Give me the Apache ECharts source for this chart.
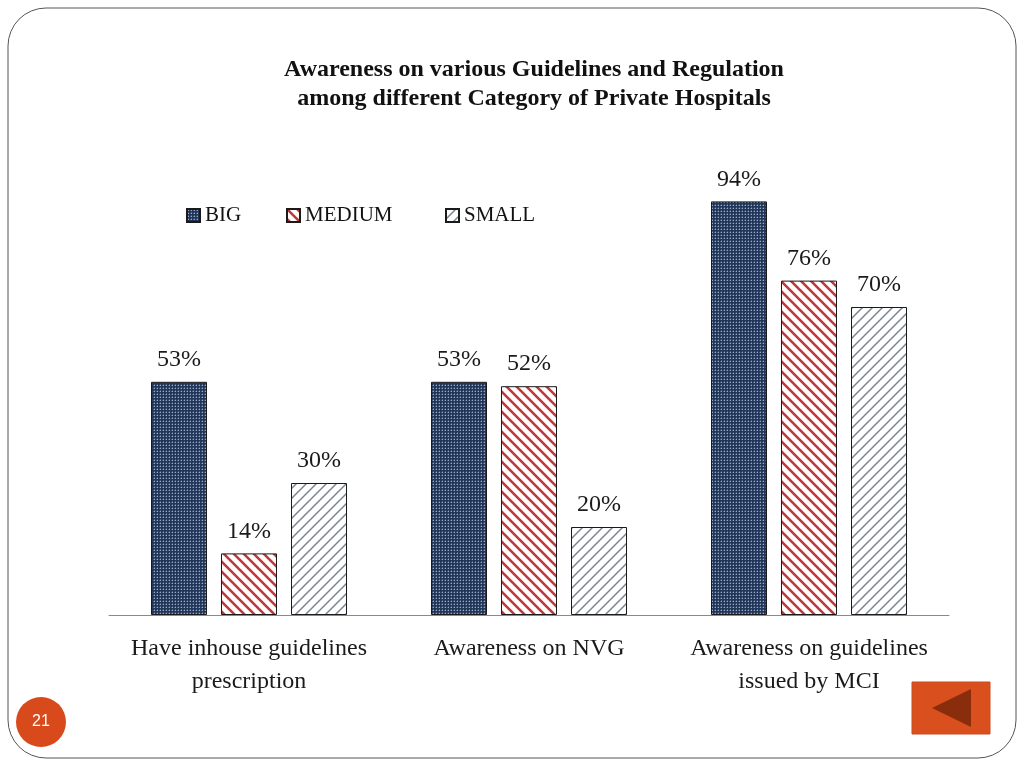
<!DOCTYPE html>
<html><head><meta charset="utf-8">
<script src="https://cdn.jsdelivr.net/npm/echarts@6/dist/echarts.min.js"></script>
<style>html,body{margin:0;padding:0;background:#fff}#c{width:1024px;height:768px}</style>
</head><body><div id="c"></div>
<script>
const categories = ['Have inhouse guidelines\nprescription', 'Awareness on NVG', 'Awareness on guidelines\nissued by MCI'];
const seriesNames = ['BIG', 'MEDIUM', 'SMALL'];
const bigValues = [53, 53, 94];
const mediumValues = [14, 52, 76];
const smallValues = [30, 20, 70];

function makePattern(kind) {
  const c = document.createElement('canvas');
  const ctx = c.getContext('2d');
  if (kind === 'dots') {
    c.width = 3; c.height = 3;
    ctx.fillStyle = '#22365a'; ctx.fillRect(0, 0, 3, 3);
    ctx.fillStyle = '#9aabc6'; ctx.fillRect(1, 1, 1, 1);
    ctx.fillStyle = '#4a5e80'; ctx.fillRect(0, 1, 1, 1); ctx.fillRect(1, 0, 1, 1);
  } else {
    const s = 10;
    c.width = s; c.height = s;
    ctx.fillStyle = '#ffffff'; ctx.fillRect(0, 0, s, s);
    ctx.strokeStyle = kind === 'back' ? '#c0393b' : '#7d8590';
    ctx.lineWidth = kind === 'back' ? 2.6 : 1.5;
    ctx.beginPath();
    if (kind === 'back') {
      for (let k = -1; k <= 1; k++) { ctx.moveTo(k * s - 1, -1); ctx.lineTo(k * s + s + 1, s + 1); }
    } else {
      for (let k = -1; k <= 1; k++) { ctx.moveTo(k * s - 1, s + 1); ctx.lineTo(k * s + s + 1, -1); }
    }
    ctx.stroke();
  }
  return { image: c, repeat: 'repeat' };
}

const patterns = [makePattern('dots'), makePattern('back'), makePattern('fwd')];
const valuesList = [bigValues, mediumValues, smallValues];
const legendLefts = [181, 281, 440];
const serif = '"Liberation Serif", "DejaVu Serif", serif';

const chart = echarts.init(document.getElementById('c'), null, { renderer: 'canvas' });
chart.setOption({
  animation: false,
  backgroundColor: '#fff',
  title: {
    text: 'Awareness on various Guidelines and Regulation\namong different Category of Private Hospitals',
    left: 529, top: 50, textAlign: 'center',
    textStyle: { fontFamily: serif, fontWeight: 'bold', fontSize: 24, color: '#111', lineHeight: 29 }
  },
  legend: seriesNames.map((n, i) => ({
    data: [n], left: legendLefts[i], top: 200, itemWidth: 13, itemHeight: 13, icon: 'rect',
    textStyle: { fontFamily: serif, fontSize: 21, color: '#111' }
  })),
  grid: { left: 109, right: 75, top: 175, bottom: 153 },
  xAxis: {
    type: 'category', data: categories,
    axisLine: { lineStyle: { color: '#8a8a8a', width: 1 } },
    axisTick: { show: false },
    axisLabel: { fontFamily: serif, fontSize: 24, color: '#1a1a1a', margin: 17, lineHeight: 33, interval: 0 }
  },
  yAxis: { type: 'value', min: 0, max: 100, show: false, splitLine: { show: false } },
  series: seriesNames.map((n, i) => ({
    name: n, type: 'bar', data: valuesList[i], barWidth: 56, barGap: '25%',
    itemStyle: { color: patterns[i], borderColor: '#1a1a1a', borderWidth: 1 },
    label: { show: true, position: 'top', distance: 10, formatter: '{c}%', fontFamily: serif, fontSize: 24, color: '#1a1a1a' }
  })),
  graphic: [
    { type: 'rect', shape: { x: 8, y: 8, width: 1008, height: 750, r: 38 }, style: { fill: 'none', stroke: '#555', lineWidth: 1 }, z: -1 },
    { type: 'circle', shape: { cx: 41, cy: 722, r: 25 }, style: { fill: '#d84a1b' } },
    { type: 'text', x: 41, y: 722, style: { text: '21', fill: '#fff', font: '16px "Liberation Sans", Arial, sans-serif', textAlign: 'center', textVerticalAlign: 'middle' } },
    { type: 'rect', shape: { x: 912, y: 682, width: 78, height: 52 }, style: { fill: '#d9501e', stroke: '#c84a1c' } },
    { type: 'polygon', shape: { points: [[932, 708], [971, 689], [971, 727]] }, style: { fill: '#8a2d0c' } }
  ]
});
</script>
</body></html>
